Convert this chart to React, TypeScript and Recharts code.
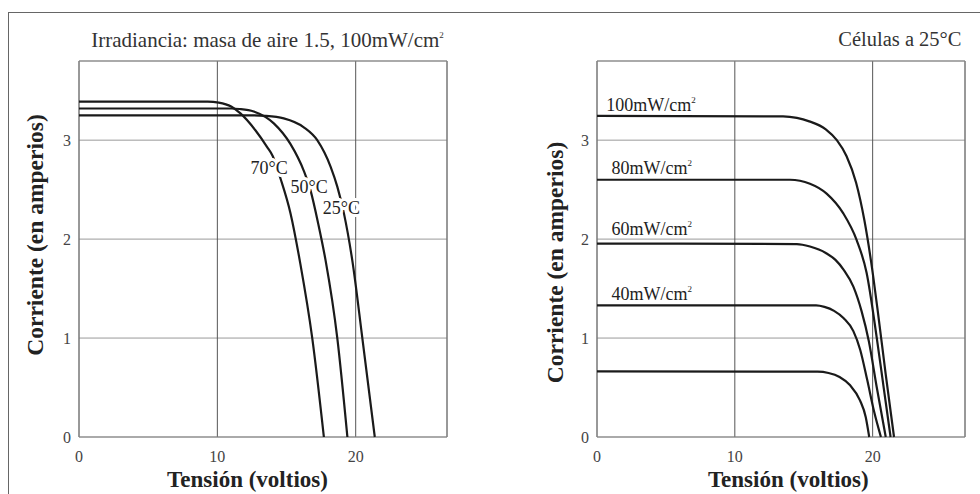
import React from 'react';
import {
  LineChart,
  Line,
  XAxis,
  YAxis,
  CartesianGrid,
  ReferenceArea,
  ReferenceDot,
} from 'recharts';

const SERIF = 'Liberation Serif';

const xTicks = [0, 10, 20];
const yTicks = [0, 1, 2, 3];

// curvas I-V a 100mW/cm2, distintas temperaturas (v = voltios, i = amperios)
const curva25C = [
  { v: 0, i: 3.25 }, { v: 12.5, i: 3.25 }, { v: 13.5, i: 3.245 }, { v: 14.8, i: 3.22 },
  { v: 16.25, i: 3.13 }, { v: 17.22, i: 3.0 }, { v: 18.19, i: 2.73 }, { v: 18.67, i: 2.53 },
  { v: 19.15, i: 2.26 }, { v: 19.76, i: 1.78 }, { v: 20.48, i: 1.0 }, { v: 21.38, i: 0 },
];
const curva50C = [
  { v: 0, i: 3.32 }, { v: 11, i: 3.32 }, { v: 11.6, i: 3.315 }, { v: 12.63, i: 3.29 },
  { v: 14.08, i: 3.17 }, { v: 15.29, i: 2.96 }, { v: 16.25, i: 2.69 }, { v: 16.74, i: 2.49 },
  { v: 17.3, i: 2.15 }, { v: 17.83, i: 1.78 }, { v: 18.67, i: 1.0 }, { v: 19.4, i: 0 },
];
const curva70C = [
  { v: 0, i: 3.39 }, { v: 9.3, i: 3.39 }, { v: 10.1, i: 3.38 }, { v: 11, i: 3.34 },
  { v: 11.67, i: 3.27 }, { v: 12.75, i: 3.1 }, { v: 13.6, i: 2.93 }, { v: 14.0, i: 2.84 },
  { v: 14.57, i: 2.61 }, { v: 15.29, i: 2.26 }, { v: 16.0, i: 1.75 }, { v: 16.86, i: 1.0 },
  { v: 17.7, i: 0 },
];
const etiquetasTemp = [
  { texto: '70°C', v: 13.75, i: 2.66 },
  { texto: '50°C', v: 16.64, i: 2.465 },
  { texto: '25°C', v: 18.97, i: 2.257 },
];

// curvas I-V a 25°C, distintas irradiancias
const curva100 = [
  { v: 0, i: 3.245 }, { v: 13.5, i: 3.24 }, { v: 14.5, i: 3.225 }, { v: 15.4, i: 3.19 },
  { v: 16.6, i: 3.11 }, { v: 17.4, i: 3.0 }, { v: 18.1, i: 2.84 }, { v: 18.8, i: 2.57 },
  { v: 19.4, i: 2.19 }, { v: 19.9, i: 1.76 }, { v: 20.4, i: 1.24 }, { v: 20.95, i: 0.63 },
  { v: 21.55, i: 0 },
];
const curva80 = [
  { v: 0, i: 2.6 }, { v: 14, i: 2.6 }, { v: 15.45, i: 2.56 }, { v: 16.66, i: 2.46 },
  { v: 17.87, i: 2.26 }, { v: 18.84, i: 1.99 }, { v: 19.56, i: 1.66 }, { v: 20.3, i: 1.0 },
  { v: 20.8, i: 0.5 }, { v: 21.3, i: 0 },
];
const curva60 = [
  { v: 0, i: 1.955 }, { v: 14.5, i: 1.95 }, { v: 15.45, i: 1.925 }, { v: 16.6, i: 1.86 },
  { v: 17.3, i: 1.79 }, { v: 17.9, i: 1.69 }, { v: 18.6, i: 1.52 }, { v: 19.2, i: 1.27 },
  { v: 19.72, i: 0.97 }, { v: 20.3, i: 0.5 }, { v: 20.95, i: 0 },
];
const curva40 = [
  { v: 0, i: 1.33 }, { v: 15.9, i: 1.33 }, { v: 16.5, i: 1.315 }, { v: 17.2, i: 1.275 },
  { v: 17.9, i: 1.2 }, { v: 18.6, i: 1.07 }, { v: 19.1, i: 0.88 }, { v: 19.6, i: 0.58 },
  { v: 20.1, i: 0.26 }, { v: 20.6, i: 0 },
];
const curva20 = [
  { v: 0, i: 0.664 }, { v: 16, i: 0.66 }, { v: 16.8, i: 0.647 }, { v: 17.6, i: 0.607 },
  { v: 18.35, i: 0.525 }, { v: 19.08, i: 0.37 }, { v: 19.5, i: 0.2 }, { v: 19.75, i: 0 },
];
const etiquetasIrr = [
  { texto: '100mW/cm', v: 0.68, i: 3.29 },
  { texto: '80mW/cm', v: 1.05, i: 2.66 },
  { texto: '60mW/cm', v: 1.05, i: 2.04 },
  { texto: '40mW/cm', v: 1.05, i: 1.38 },
];

const tickStyle = { fontSize: 16, fill: '#444', style: { fontFamily: SERIF } };

function EtiquetaCurva({ cx, cy, texto, sup, anchor }: any) {
  return (
    <text
      x={cx}
      y={cy}
      textAnchor={anchor}
      fontSize={18}
      fill="#222"
      stroke="#fff"
      strokeWidth={6}
      strokeLinejoin="round"
      paintOrder="stroke"
      style={{ fontFamily: SERIF }}
    >
      {texto}
      {sup && (
        <tspan dy={-8} fontSize={9} stroke="none">
          2
        </tspan>
      )}
    </text>
  );
}

function Panel({ curvas, etiquetas, sup, anchor, xMax, margin }: any) {
  return (
    <LineChart width={490} height={494} margin={margin} style={{ fontFamily: SERIF }}>
      <CartesianGrid vertical={false} stroke="#999" />
      <CartesianGrid horizontal={false} stroke="#555" />
      <ReferenceArea x1={0} x2={xMax} y1={0} y2={3.8} fill="none" stroke="#888" />
      <XAxis
        type="number"
        dataKey="v"
        domain={[0, xMax]}
        ticks={xTicks}
        height={30}
        tickMargin={8}
        tickLine={false}
        axisLine={false}
        tick={tickStyle}
        allowDuplicatedCategory={false}
      />
      <YAxis
        type="number"
        domain={[0, 3.8]}
        ticks={yTicks}
        width={30}
        tickLine={false}
        axisLine={false}
        tick={tickStyle}
      />
      {curvas.map((c: any, k: number) => (
        <Line
          key={k}
          data={c}
          dataKey="i"
          type="monotone"
          dot={false}
          stroke="#1a1a1a"
          strokeWidth={2.2}
          isAnimationActive={false}
        />
      ))}
      {etiquetas.map((e: any) => (
        <ReferenceDot
          key={e.texto}
          x={e.v}
          y={e.i}
          r={1}
          shape={(p: any) => (
            <EtiquetaCurva cx={p.cx} cy={p.cy} texto={e.texto} sup={sup} anchor={anchor} />
          )}
        />
      ))}
    </LineChart>
  );
}

export default function App() {
  const bold = { fontFamily: SERIF, fontWeight: 700 };
  return (
    <div
      style={{
        position: 'absolute',
        left: 0,
        top: 0,
        width: 980,
        height: 494,
        background: '#fff',
        overflow: 'hidden',
        fontFamily: SERIF,
      }}
    >
      <div
        style={{
          position: 'absolute',
          left: 8,
          top: 12,
          width: 980,
          height: 500,
          borderTop: '1.5px solid #666',
          borderLeft: '1.5px solid #666',
        }}
      />
      <div style={{ position: 'absolute', left: 0, top: 0 }}>
        <Panel
          curvas={[curva25C, curva50C, curva70C]}
          etiquetas={etiquetasTemp}
          sup={false}
          anchor="middle"
          xMax={26.6}
          margin={{ top: 61, right: 43, bottom: 27, left: 49 }}
        />
      </div>
      <div style={{ position: 'absolute', left: 490, top: 0 }}>
        <Panel
          curvas={[curva100, curva80, curva60, curva40, curva20]}
          etiquetas={etiquetasIrr}
          sup={true}
          anchor="start"
          xMax={26.7}
          margin={{ top: 61, right: 15, bottom: 27, left: 77 }}
        />
      </div>
      <svg
        width={980}
        height={494}
        style={{ position: 'absolute', left: 0, top: 0, pointerEvents: 'none', fontFamily: SERIF }}
      >
        <text x={267.5} y={46.5} textAnchor="middle" fontSize={21} fill="#333">
          Irradiancia: masa de aire 1.5, 100mW/cm
          <tspan dy={-9} fontSize={9}>2</tspan>
        </text>
        <text x={961.5} y={46} textAnchor="end" fontSize={20.5} fill="#333">
          Células a 25°C
        </text>
        <text
          x={43}
          y={235}
          transform="rotate(-90 43 235)"
          textAnchor="middle"
          fontSize={23.5}
          fill="#222"
          style={bold}
        >
          Corriente (en amperios)
        </text>
        <text
          x={563}
          y={262.5}
          transform="rotate(-90 563 262.5)"
          textAnchor="middle"
          fontSize={23.5}
          fill="#222"
          style={bold}
        >
          Corriente (en amperios)
        </text>
        <text x={247.5} y={487} textAnchor="middle" fontSize={23} fill="#222" style={bold}>
          Tensión (voltios)
        </text>
        <text x={788.3} y={487} textAnchor="middle" fontSize={23} fill="#222" style={bold}>
          Tensión (voltios)
        </text>
      </svg>
    </div>
  );
}
